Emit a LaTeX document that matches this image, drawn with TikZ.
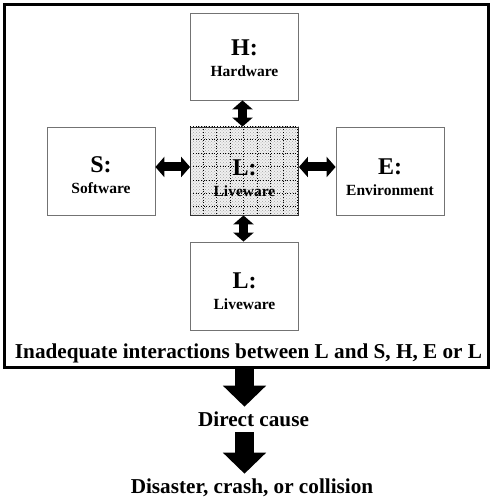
\documentclass[tikz,border=0pt]{standalone}
\usepackage{fontspec}
\setmainfont{Liberation Serif}
\usetikzlibrary{arrows.meta,patterns,backgrounds}

\newcommand{\bigletter}{\fontsize{24}{24}\selectfont}
\newcommand{\smallword}{\fontsize{15.5}{21}\selectfont}

\begin{document}
\begin{tikzpicture}[x=1pt, y=1pt,
    box/.style={rectangle, draw=black!55, line width=0.8pt, minimum width=108pt, minimum height=88pt, inner sep=0pt, align=center, text height=50pt, text depth=4pt, font=\bfseries\smallword},
    caption/.style={inner sep=5pt, anchor=base, font=\bfseries\fontsize{21.2}{24}\selectfont},
    twoway/.style={line width=9pt, {Triangle[width=20pt,length=9pt]}-{Triangle[width=20pt,length=9pt]}},
    bigarrow/.style={line width=19pt, -{Triangle[width=42pt,length=21pt]}},
    gridline/.style={line width=1pt, dash pattern=on 1pt off 1.7pt}]
    \useasboundingbox (0,0) rectangle (494,500);

    % outer frame
    \node (frame) [rectangle, draw, line width=3pt, minimum width=484pt, minimum height=363pt, inner sep=0pt] at (246.5,314) {};

    % SHEL boxes
    \node (H) [box, minimum height=87pt, text height=45pt] at (244.5,443.5) {{\bigletter H:}\\Hardware};
    \node (S) [box] at (101,329) {{\bigletter S:}\\Software};
    \node (Lc) [box, draw=black!80, text height=55pt] at (244.5,329) {{\bigletter L:}\\Liveware};
    \node (E) [box, text height=54pt] at (390,329) {{\bigletter E:}\\Environment};
    \node (Lb) [box, text height=52pt] at (244.5,214) {{\bigletter L:}\\Liveware};

    % dotted grid behind the centre box
    \begin{scope}[on background layer]
        \fill[gray!12] (Lc.north west) rectangle (Lc.south east);
        \fill[pattern=crosshatch dots, pattern color=gray!70] (Lc.north west) rectangle (Lc.south east);
        \begin{scope}[shift={(Lc.north west)}]
            \draw[gridline] (0,0) grid[step=13.4pt] (107.5,-87.5);
        \end{scope}
    \end{scope}

    % captions
    \node (inadequate) [caption] at (248.5,141.4) {Inadequate interactions between L and S, H, E or L};
    \node (cause) [caption] at (253.5,73.4) {Direct cause};
    \node (disaster) [caption] at (252,6.4) {Disaster, crash, or collision};

    % interactions
    \draw[twoway] ([xshift=-2pt]H.south) -- ([xshift=-2pt]Lc.north);
    \draw[twoway] ([yshift=4pt]S.east) -- ([yshift=4pt]Lc.west);
    \draw[twoway] ([yshift=4pt]Lc.east) -- ([yshift=4pt]E.west);
    \draw[twoway] ([xshift=-1pt]Lc.south) -- ([xshift=-1pt]Lb.north);

    \draw[bigarrow] (Lb |- frame.south) -- (Lb |- cause.north);
    \draw[bigarrow] (Lb |- cause.south) -- (Lb |- disaster.north);
\end{tikzpicture}
\end{document}
